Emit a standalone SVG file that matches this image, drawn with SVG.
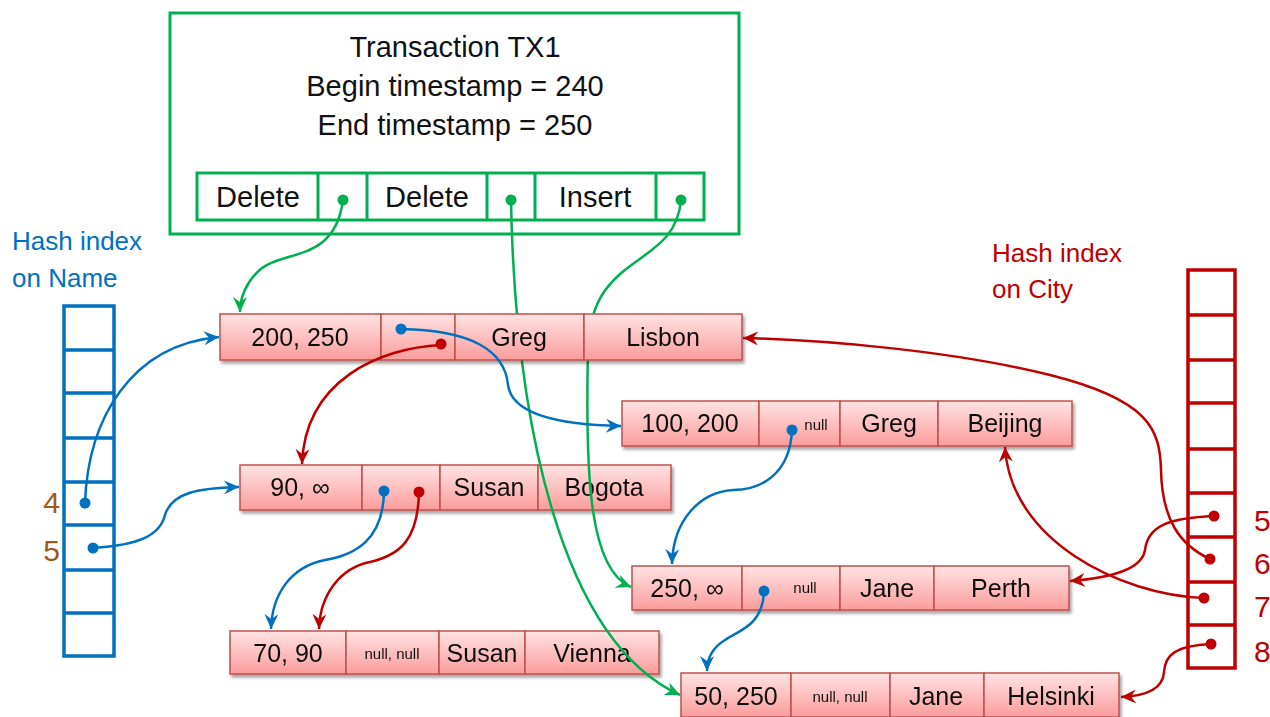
<svg xmlns="http://www.w3.org/2000/svg" width="1270" height="717" viewBox="0 0 1270 717">
<style>
text{font-family:"Liberation Sans",Arial,sans-serif;fill:#111}
.t{font-size:29px;text-anchor:middle}
.c{font-size:25px;text-anchor:middle}
.n{font-size:15px;text-anchor:middle}
.cell{fill:url(#pink);stroke:#c0504d;stroke-width:1.5}
.grn{fill:#fff;stroke:#00b050;stroke-width:3}
.bidx{fill:#fff;stroke:#0070c0;stroke-width:3.5}
.ridx{fill:#fff;stroke:#c00000;stroke-width:3.5}
.cb{fill:none;stroke:#0070c0;stroke-width:2.5}
.cr{fill:none;stroke:#c00000;stroke-width:2.5}
.cg{fill:none;stroke:#00b050;stroke-width:2.5}
.db{fill:#0070c0}.dr{fill:#c00000}.dg{fill:#00b050}
.hb{font-size:26px;fill:#0070c0}
.hr{font-size:26px;fill:#c00000}
.lb{font-size:30px;fill:#9c5a1a;text-anchor:end}
.lr{font-size:30px;fill:#c00000}
</style>
<defs>
<linearGradient id="pink" x1="0" y1="0" x2="0" y2="1">
<stop offset="0" stop-color="#ffe3e3"/><stop offset="1" stop-color="#fb9c9c"/>
</linearGradient>
<filter id="sh" x="-5%" y="-20%" width="110%" height="150%">
<feDropShadow dx="2" dy="3" stdDeviation="1.5" flood-color="#000" flood-opacity="0.35"/>
</filter>
<marker id="ab" markerUnits="userSpaceOnUse" markerWidth="16" markerHeight="14" refX="15" refY="7" orient="auto"><path d="M0,0 L15,7 L0,14 L5,7 z" fill="#0070c0"/></marker>
<marker id="ar" markerUnits="userSpaceOnUse" markerWidth="16" markerHeight="14" refX="15" refY="7" orient="auto"><path d="M0,0 L15,7 L0,14 L5,7 z" fill="#c00000"/></marker>
<marker id="ag" markerUnits="userSpaceOnUse" markerWidth="16" markerHeight="14" refX="15" refY="7" orient="auto"><path d="M0,0 L15,7 L0,14 L5,7 z" fill="#00b050"/></marker>
</defs>
<rect width="1270" height="717" fill="#fff"/>

<g id="tx">
<rect class="grn" x="170" y="13" width="569" height="221"/>
<text class="t" x="455" y="57">Transaction TX1</text>
<text class="t" x="455" y="96">Begin timestamp = 240</text>
<text class="t" x="455" y="135">End timestamp = 250</text>
<rect class="grn" x="197" y="173" width="507" height="47"/>
<line class="grn" x1="318" y1="173" x2="318" y2="220"/>
<line class="grn" x1="367" y1="173" x2="367" y2="220"/>
<line class="grn" x1="487" y1="173" x2="487" y2="220"/>
<line class="grn" x1="535" y1="173" x2="535" y2="220"/>
<line class="grn" x1="656" y1="173" x2="656" y2="220"/>
<text class="t" x="258" y="207">Delete</text>
<text class="t" x="427" y="207">Delete</text>
<text class="t" x="595" y="207">Insert</text>
</g>

<g id="name-index">
<text class="hb" x="12" y="250">Hash index</text>
<text class="hb" x="12" y="287">on Name</text>
<rect class="bidx" x="64" y="306" width="50" height="350"/>
<path class="bidx" d="M64,350H114M64,393H114M64,438H114M64,482H114M64,525H114M64,570H114M64,613H114"/>
<text class="lb" x="60" y="513">4</text>
<text class="lb" x="60" y="561">5</text>
</g>

<g id="city-index">
<text class="hr" x="992" y="262">Hash index</text>
<text class="hr" x="992" y="298">on City</text>
<rect class="ridx" x="1188" y="270" width="47" height="398"/>
<path class="ridx" d="M1188,315H1235M1188,360H1235M1188,403H1235M1188,449H1235M1188,493H1235M1188,537H1235M1188,582H1235M1188,625H1235"/>
<text class="lr" x="1254" y="531">5</text>
<text class="lr" x="1254" y="574">6</text>
<text class="lr" x="1254" y="617">7</text>
<text class="lr" x="1254" y="662">8</text>
</g>

<g id="row-greg-beijing" filter="url(#sh)">
<rect class="cell" x="622" y="401" width="137" height="45"/>
<rect class="cell" x="759" y="401" width="81" height="45"/>
<rect class="cell" x="840" y="401" width="98" height="45"/>
<rect class="cell" x="938" y="401" width="134" height="45"/>
<text class="c" x="690" y="432">100, 200</text>
<text class="n" x="816" y="430">null</text>
<text class="c" x="889" y="432">Greg</text>
<text class="c" x="1005" y="432">Beijing</text>
</g>

<g id="row-susan-bogota" filter="url(#sh)">
<rect class="cell" x="240" y="465" width="122" height="45"/>
<rect class="cell" x="362" y="465" width="78" height="45"/>
<rect class="cell" x="440" y="465" width="98" height="45"/>
<rect class="cell" x="538" y="465" width="133" height="45"/>
<text class="c" x="300" y="496">90, ∞</text>
<text class="c" x="489" y="496">Susan</text>
<text class="c" x="604" y="496">Bogota</text>
</g>

<g id="row-jane-perth" filter="url(#sh)">
<rect class="cell" x="632" y="566" width="110" height="44"/>
<rect class="cell" x="742" y="566" width="98" height="44"/>
<rect class="cell" x="840" y="566" width="94" height="44"/>
<rect class="cell" x="934" y="566" width="135" height="44"/>
<text class="c" x="687" y="597">250, ∞</text>
<text class="n" x="805" y="593">null</text>
<text class="c" x="887" y="597">Jane</text>
<text class="c" x="1001" y="597">Perth</text>
</g>

<g id="row-susan-vienna" filter="url(#sh)">
<rect class="cell" x="230" y="631" width="116" height="43"/>
<rect class="cell" x="346" y="631" width="93" height="43"/>
<rect class="cell" x="439" y="631" width="86" height="43"/>
<rect class="cell" x="525" y="631" width="134" height="43"/>
<text class="c" x="288" y="662">70, 90</text>
<text class="n" x="392" y="659">null, null</text>
<text class="c" x="482" y="662">Susan</text>
<text class="c" x="592" y="662">Vienna</text>
</g>

<g id="row-jane-helsinki" filter="url(#sh)">
<rect class="cell" x="681" y="673" width="110" height="44"/>
<rect class="cell" x="791" y="673" width="99" height="44"/>
<rect class="cell" x="890" y="673" width="94" height="44"/>
<rect class="cell" x="984" y="673" width="135" height="44"/>
<text class="c" x="736" y="705">50, 250</text>
<text class="n" x="840" y="702">null, null</text>
<text class="c" x="936" y="705">Jane</text>
<text class="c" x="1051" y="705">Helsinki</text>
</g>

<g id="connectors-tx">
<path class="cg" d="M511,200 C515,420 560,640 680,695" marker-end="url(#ag)"/>
<path class="cg" d="M681,200 C675,270 590,250 588,350 C585,480 590,570 631,587" marker-end="url(#ag)"/>
</g>

<g id="row-greg-lisbon" filter="url(#sh)">
<rect class="cell" x="220" y="314" width="161" height="46"/>
<rect class="cell" x="381" y="314" width="74" height="46"/>
<rect class="cell" x="455" y="314" width="129" height="46"/>
<rect class="cell" x="584" y="314" width="158" height="46"/>
<text class="c" x="300" y="346">200, 250</text>
<text class="c" x="519" y="346">Greg</text>
<text class="c" x="663" y="346">Lisbon</text>
</g>

<g id="connectors">
<path class="cg" d="M343,200 C335,262 285,250 262,268 C246,281 240,298 240,312" marker-end="url(#ag)"/>
<path class="cb" d="M85,503 C88,420 130,345 219,337" marker-end="url(#ab)"/>
<path class="cb" d="M93,548 C140,545 160,535 165,515 C172,492 200,488 239,487" marker-end="url(#ab)"/>
<path class="cb" d="M401,329 C470,330 505,350 508,385 C512,415 560,425 621,426" marker-end="url(#ab)"/>
<path class="cb" d="M792,430 C790,475 760,490 733,490 C700,492 673,520 672,564" marker-end="url(#ab)"/>
<path class="cb" d="M764,591 C763,625 740,630 725,640 C712,648 707,658 707,671" marker-end="url(#ab)"/>
<path class="cb" d="M384,492 C383,540 355,555 325,560 C290,567 272,595 271,629" marker-end="url(#ab)"/>
<path class="cr" d="M419,492 C418,540 400,555 370,562 C340,568 320,595 319,629" marker-end="url(#ar)"/>
<path class="cr" d="M441,345 C380,348 305,380 302,464" marker-end="url(#ar)"/>
<path class="cr" d="M1210,559 C1180,545 1162,520 1161,470 C1160,430 1150,400 1050,375 C950,350 820,340 743,338" marker-end="url(#ar)"/>
<path class="cr" d="M1214,516 C1170,518 1148,525 1145,550 C1142,570 1110,578 1070,581" marker-end="url(#ar)"/>
<path class="cr" d="M1204,598 C1120,595 1010,540 1005,447" marker-end="url(#ar)"/>
<path class="cr" d="M1211,644 C1175,646 1165,655 1164,672 C1163,690 1145,696 1121,697" marker-end="url(#ar)"/>
<circle class="dg" cx="343" cy="200" r="5.5"/>
<circle class="dg" cx="511" cy="200" r="5.5"/>
<circle class="dg" cx="681" cy="200" r="5.5"/>
<circle class="db" cx="85" cy="503" r="5.5"/>
<circle class="db" cx="93" cy="548" r="5.5"/>
<circle class="db" cx="401" cy="329" r="5.5"/>
<circle class="dr" cx="441" cy="344" r="5.5"/>
<circle class="db" cx="792" cy="430" r="5.5"/>
<circle class="db" cx="384" cy="491" r="5.5"/>
<circle class="dr" cx="419" cy="492" r="5.5"/>
<circle class="db" cx="764" cy="591" r="5.5"/>
<circle class="dr" cx="1214" cy="516" r="5.5"/>
<circle class="dr" cx="1210" cy="559" r="5.5"/>
<circle class="dr" cx="1204" cy="598" r="5.5"/>
<circle class="dr" cx="1211" cy="644" r="5.5"/>
</g>
</svg>
